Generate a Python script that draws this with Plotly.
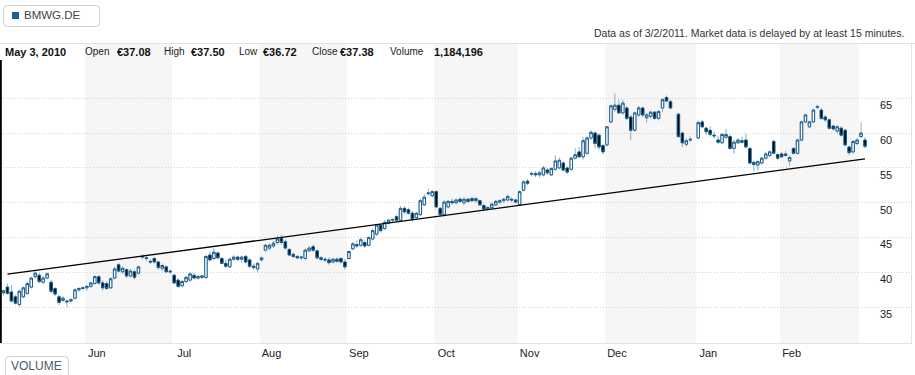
import pandas as pd
import plotly.graph_objects as go

# ---------------- data ----------------
ticker = "BMWG.DE"
first_day_label = "May 3, 2010"
first_day_volume = "1,184,196"
note_text = "Data as of 3/2/2011. Market data is delayed by at least 15 minutes."
closed_days = ["2010-12-24", "2010-12-31"]

open_ = [
    37.08, 37.9, 37.2, 36.5, 35.4, 36.5, 37.0, 37.9, 39.4, 39.6,
    38.6, 39.2, 38.6, 37.7, 36.5, 36.0, 35.9, 35.9, 36.3, 37.5,
    37.7, 37.8, 38.0, 38.4, 39.4, 38.5, 38.4, 37.8, 39.2, 41.1,
    40.1, 40.4, 39.5, 40.1, 39.9, 42.2, 42.1, 41.6, 42.0, 41.5,
    40.6, 40.8, 40.2, 39.6, 38.9, 38.1, 38.7, 38.9, 39.6, 39.2,
    39.3, 39.3, 42.5, 42.0, 42.8, 42.0, 41.3, 40.8, 41.9, 42.2,
    41.9, 42.3, 41.8, 40.9, 40.5, 41.8, 43.2, 43.5, 43.8, 44.3,
    44.9, 44.4, 43.3, 42.6, 42.3, 42.1, 42.0, 43.1, 43.7, 43.1,
    42.1, 41.9, 41.8, 41.5, 41.9, 42.0, 41.5, 42.0, 43.4, 44.0,
    43.9, 44.3, 43.9, 44.8, 45.5, 46.8, 46.3, 47.1, 47.5, 48.0,
    47.5, 49.2, 49.0, 48.5, 47.9, 48.3, 49.7, 51.3, 51.0, 51.6,
    49.2, 48.3, 49.4, 50.2, 50.0, 50.5, 50.0, 50.5, 50.6, 50.3,
    50.3, 49.6, 49.1, 49.3, 49.7, 50.1, 50.3, 50.4, 50.5, 50.4,
    49.7, 51.8, 53.1, 54.1, 54.2, 54.0, 54.0, 54.7, 54.0, 54.8,
    55.0, 55.7, 55.0, 54.8, 56.4, 57.3, 56.6, 57.1, 59.3, 60.0,
    59.7, 58.2, 58.3, 61.6, 63.4, 64.0, 62.9, 63.6, 62.3, 60.4,
    62.6, 63.6, 62.2, 62.4, 63.0, 62.1, 63.6, 65.1, 64.5,
    62.7, 60.0, 58.4, 59.0,
    59.3, 61.6, 60.7, 60.4, 59.7,
    59.0, 58.6, 59.4, 59.5, 57.8, 58.6, 58.9, 59.0, 57.8, 55.8,
    55.4, 55.7, 56.4, 56.8, 58.8, 56.9, 57.0, 57.0, 56.0, 57.8,
    57.1, 59.0, 61.6, 60.9, 61.6, 63.7, 63.3, 62.3, 61.9, 61.0,
    60.3, 60.7, 60.4, 58.0, 57.3, 58.5, 59.5, 59.0,
]
high = [
    37.50, 38.4, 38.2, 36.8, 37.6, 38.0, 38.7, 39.4, 40.2, 39.9,
    39.5, 40.0, 38.9, 37.9, 36.8, 36.6, 36.1, 36.3, 37.7, 37.9,
    38.0, 38.2, 38.7, 39.6, 39.6, 38.9, 38.7, 39.3, 40.8, 41.4,
    40.9, 40.6, 40.5, 40.3, 41.0, 42.6, 42.4, 41.9, 42.2, 41.7,
    41.3, 41.0, 40.4, 39.8, 39.1, 38.9, 39.5, 40.0, 39.9, 39.6,
    39.6, 42.5, 43.0, 43.5, 43.0, 42.2, 41.9, 42.1, 42.5, 42.4,
    42.4, 42.5, 42.0, 41.3, 41.5, 42.3, 44.1, 44.2, 44.5, 45.3,
    45.4, 44.7, 43.5, 42.9, 42.5, 42.4, 43.4, 43.8, 44.0, 43.3,
    42.4, 42.2, 42.2, 42.1, 42.2, 42.2, 41.9, 43.2, 44.4, 44.6,
    45.0, 44.6, 45.2, 46.3, 47.0, 47.0, 47.5, 47.7, 47.8, 48.3,
    49.5, 49.5, 49.3, 48.8, 48.7, 50.6, 51.2, 52.0, 51.8, 51.8,
    49.4, 50.4, 50.4, 50.6, 50.6, 50.8, 50.8, 50.7, 50.9, 50.8,
    50.5, 49.8, 49.5, 50.0, 50.4, 50.5, 50.7, 51.2, 50.8, 50.6,
    51.8, 53.3, 53.4, 54.5, 54.5, 54.6, 55.3, 55.0, 55.1, 56.8,
    56.5, 56.0, 55.2, 56.6, 57.8, 58.0, 59.4, 59.5, 60.4, 60.3,
    60.0, 58.5, 61.0, 64.1, 65.7, 64.8, 64.8, 63.9, 62.6, 63.1,
    63.9, 63.8, 62.9, 63.2, 63.2, 63.3, 65.0, 65.4, 64.8,
    62.9, 60.2, 59.2, 59.5,
    61.8, 61.9, 60.9, 61.0, 60.2,
    59.6, 60.0, 60.6, 59.8, 59.0, 59.3, 59.5, 59.9, 58.0, 56.0,
    56.1, 56.6, 57.3, 57.5, 59.1, 57.1, 57.3, 57.4, 56.8, 58.0,
    59.2, 61.8, 62.8, 61.8, 63.5, 64.1, 63.6, 62.6, 62.1, 61.2,
    61.1, 61.0, 60.6, 58.2, 59.0, 59.3, 61.6, 59.4,
]
low = [
    36.72, 36.8, 35.7, 35.4, 35.0, 36.3, 36.8, 37.7, 39.1, 38.4,
    38.3, 39.0, 37.0, 36.6, 35.3, 35.8, 35.0, 35.7, 36.1, 37.2,
    37.4, 37.4, 37.8, 38.3, 38.2, 37.4, 37.5, 37.6, 39.0, 40.0,
    39.8, 39.2, 39.3, 39.0, 39.7, 41.9, 41.6, 41.2, 41.3, 40.4,
    40.2, 39.9, 39.8, 38.3, 37.8, 37.9, 38.5, 38.7, 39.0, 39.0,
    39.1, 39.1, 41.6, 41.8, 41.9, 41.2, 40.6, 40.6, 41.7, 41.6,
    41.4, 41.3, 40.6, 40.4, 40.0, 41.6, 43.0, 43.2, 43.5, 44.0,
    44.0, 43.3, 42.3, 42.0, 41.9, 41.8, 41.8, 42.9, 43.0, 41.9,
    41.6, 41.5, 41.1, 41.3, 41.4, 41.3, 40.4, 41.8, 43.2, 43.5,
    43.7, 43.5, 43.7, 44.6, 45.2, 45.7, 46.1, 46.9, 47.2, 47.3,
    47.3, 48.4, 48.3, 47.3, 47.7, 48.1, 49.5, 51.0, 50.8, 49.2,
    48.0, 48.0, 49.2, 49.7, 49.8, 50.0, 49.7, 50.0, 50.1, 50.0,
    49.5, 48.8, 48.9, 49.1, 49.5, 49.8, 50.0, 50.2, 50.1, 49.9,
    49.5, 51.6, 52.5, 53.8, 53.7, 53.6, 53.8, 54.0, 53.8, 54.6,
    54.8, 54.5, 54.1, 54.6, 56.2, 56.4, 56.2, 56.9, 59.0, 57.8,
    57.6, 56.9, 58.1, 61.4, 63.0, 62.7, 62.6, 61.8, 59.0, 60.2,
    62.3, 62.3, 61.5, 62.1, 61.9, 61.8, 63.0, 64.4, 63.4,
    59.3, 58.0, 58.1, 58.7,
    59.1, 60.7, 59.7, 59.5, 59.2,
    58.4, 58.4, 59.2, 57.6, 57.0, 58.4, 58.5, 57.8, 55.5, 54.5,
    54.6, 55.5, 56.2, 56.5, 57.0, 56.1, 56.4, 56.6, 55.3, 56.9,
    56.9, 58.8, 61.4, 60.7, 61.4, 63.4, 61.9, 61.6, 60.5, 60.4,
    60.0, 59.5, 58.1, 56.8, 57.0, 58.2, 59.3, 57.8,
]
close = [
    37.38, 37.0, 35.9, 35.6, 37.3, 37.8, 38.4, 39.2, 39.9, 38.7,
    39.2, 39.8, 37.3, 36.9, 35.7, 36.3, 35.8, 36.1, 37.5, 37.7,
    37.8, 38.0, 38.5, 39.4, 38.5, 37.8, 37.7, 39.1, 40.5, 40.2,
    40.6, 39.5, 40.2, 39.3, 40.8, 42.3, 42.0, 41.5, 41.5, 40.7,
    41.0, 40.1, 40.1, 38.5, 38.0, 38.7, 39.3, 39.8, 39.2, 39.4,
    39.5, 42.3, 41.8, 42.9, 42.1, 41.3, 40.9, 41.9, 42.2, 41.9,
    42.2, 41.5, 40.9, 40.7, 41.3, 42.1, 43.9, 43.9, 44.2, 44.8,
    44.3, 43.5, 42.5, 42.3, 42.1, 42.2, 43.2, 43.5, 43.2, 42.1,
    41.9, 41.8, 41.4, 41.9, 41.6, 41.5, 40.8, 43.0, 44.1, 43.8,
    44.7, 43.8, 45.0, 46.0, 46.8, 46.0, 47.2, 47.5, 47.6, 47.5,
    49.2, 48.7, 48.5, 47.6, 48.5, 50.3, 50.8, 51.4, 51.6, 49.4,
    48.3, 50.1, 50.2, 50.0, 50.4, 50.2, 50.5, 50.2, 50.3, 50.6,
    49.7, 49.1, 49.3, 49.8, 50.2, 50.3, 50.5, 50.9, 50.4, 50.1,
    51.6, 53.0, 52.8, 54.2, 54.0, 54.3, 55.0, 54.3, 54.9, 56.0,
    56.1, 54.7, 54.4, 56.4, 56.9, 56.6, 58.9, 59.3, 60.1, 58.5,
    58.0, 57.3, 60.9, 63.9, 64.0, 62.9, 64.3, 62.1, 60.4, 62.9,
    63.6, 62.6, 62.6, 63.0, 62.1, 63.1, 64.8, 64.6, 63.6,
    59.5, 58.6, 58.9, 59.1,
    61.5, 60.9, 60.2, 59.8, 59.6,
    58.7, 59.8, 59.8, 57.8, 58.7, 59.0, 58.7, 58.0, 55.7, 55.5,
    55.9, 56.4, 57.0, 57.3, 57.1, 56.4, 56.6, 56.8, 56.5, 57.1,
    59.0, 61.6, 62.6, 61.6, 63.3, 63.8, 62.1, 61.9, 60.7, 60.6,
    60.9, 59.7, 58.3, 57.2, 58.8, 59.0, 60.0, 58.1,
]

trend_x = ["2010-05-04", "2011-03-02"]
trend_y = [39.75, 56.3]

month_ticks = ["2010-06-01", "2010-07-01", "2010-08-02", "2010-09-01", "2010-10-01",
               "2010-11-01", "2010-12-01", "2011-01-03", "2011-02-01"]
month_labels = ["Jun", "Jul", "Aug", "Sep", "Oct", "Nov", "Dec", "Jan", "Feb"]
shaded_months = ["2010-06", "2010-08", "2010-10", "2010-12", "2011-02"]
y_ticks = [35, 40, 45, 50, 55, 60, 65]

header_labels = ["Open", "High", "Low", "Close", "Volume"]

# ---------------- build ----------------
dates = [d for d in pd.bdate_range("2010-05-03", "2011-03-02")
         if d.strftime("%Y-%m-%d") not in closed_days]
assert len(dates) == len(open_) == len(high) == len(low) == len(close)

body_hi = [max(o, c) for o, c in zip(open_, close)]
body_lo = [min(o, c) for o, c in zip(open_, close)]

W, H = 915, 375
ML, MR, MT, MB = 0, 4, 44, 32
PW, PH = W - ML - MR, H - MT - MB
FONT = "Liberation Sans, Arial, sans-serif"


def px(x):
    return (x - ML) / PW


def py(y):
    return (H - MB - y) / PH


def rounded_rect(x0, y0, x1, y1, r):
    pts = [
        f"M {px(x0 + r)},{py(y0)}",
        f"L {px(x1 - r)},{py(y0)}",
        f"Q {px(x1)},{py(y0)} {px(x1)},{py(y0 + r)}",
        f"L {px(x1)},{py(y1 - r)}",
        f"Q {px(x1)},{py(y1)} {px(x1 - r)},{py(y1)}",
        f"L {px(x0 + r)},{py(y1)}",
        f"Q {px(x0)},{py(y1)} {px(x0)},{py(y1 - r)}",
        f"L {px(x0)},{py(y0 + r)}",
        f"Q {px(x0)},{py(y0)} {px(x0 + r)},{py(y0)}",
        "Z",
    ]
    return " ".join(pts)


fig = go.Figure()

wick_col = "#86aecb"
body_col = "#1b5d8a"

fig.add_trace(go.Candlestick(
    x=dates, open=open_, high=high, low=low, close=close,
    increasing=dict(line=dict(color=wick_col, width=1), fillcolor=wick_col),
    decreasing=dict(line=dict(color=wick_col, width=1), fillcolor=wick_col),
    hoverinfo="skip", showlegend=False,
))
fig.add_trace(go.Candlestick(
    x=dates, open=open_, high=body_hi, low=body_lo, close=close,
    increasing=dict(line=dict(color=body_col, width=1), fillcolor="#ffffff"),
    decreasing=dict(line=dict(color=body_col, width=1), fillcolor="#000000"),
    hoverinfo="skip", showlegend=False,
))
fig.add_trace(go.Scatter(
    x=trend_x, y=trend_y, mode="lines",
    line=dict(color="#000000", width=1.3),
    hoverinfo="skip", showlegend=False,
))

shapes = []
for m in shaded_months:
    start = pd.Timestamp(m + "-01") + pd.offsets.BMonthBegin(0) - pd.Timedelta(hours=12)
    end = pd.Timestamp(m + "-01") + pd.offsets.BMonthEnd(0) + pd.Timedelta(hours=12)
    shapes.append(dict(type="rect", xref="x", yref="paper",
                       x0=start, x1=end, y0=0, y1=1,
                       fillcolor="#f6f6f6", line=dict(width=0), layer="below"))

# top separator line
shapes.append(dict(type="line", xref="paper", yref="paper",
                   x0=-0.01, x1=1.01, y0=py(43.5), y1=py(43.5),
                   line=dict(color="#e2e2e2", width=1)))
# left black axis line
shapes.append(dict(type="line", xref="paper", yref="paper",
                   x0=px(0.8), x1=px(0.8), y0=py(60), y1=py(343),
                   line=dict(color="#000000", width=2)))
# ticker box
shapes.append(dict(type="path", xref="paper", yref="paper",
                   path=rounded_rect(3.5, 5.5, 99.5, 26.5, 4),
                   line=dict(color="#cfcfcf", width=1), fillcolor="#ffffff"))
shapes.append(dict(type="rect", xref="paper", yref="paper",
                   x0=px(12), x1=px(19), y0=py(19), y1=py(12),
                   line=dict(width=0), fillcolor="#1f5f8b"))
# volume button
shapes.append(dict(type="path", xref="paper", yref="paper",
                   path=rounded_rect(5.5, 356.5, 68.5, 382, 4),
                   line=dict(color="#cfcfcf", width=1), fillcolor="#ffffff"))

annotations = [
    dict(text=ticker, x=px(22), y=py(15.5), xanchor="left", yanchor="middle",
         font=dict(size=11.5, color="#444444", family=FONT)),
    dict(text="VOLUME", x=px(36.5), y=py(366), xanchor="center", yanchor="middle",
         font=dict(size=12, color="#4d5b6b", family=FONT)),
    dict(text=note_text, x=px(906), y=py(33), xanchor="right", yanchor="middle",
         font=dict(size=10.5, color="#333333", family=FONT)),
    dict(text=f"<b>{first_day_label}</b>", x=px(3), y=py(52), xanchor="left", yanchor="middle",
         font=dict(size=11, color="#111111", family=FONT)),
]
header_values = [f"€{open_[0]:.2f}", f"€{high[0]:.2f}", f"€{low[0]:.2f}",
                 f"€{close[0]:.2f}", first_day_volume]
label_x = [83, 162, 237, 310, 388]
value_x = [115, 189, 261, 338, 432]
for lab, val, lx, vx in zip(header_labels, header_values, label_x, value_x):
    annotations.append(dict(text=lab, x=px(lx), y=py(51.5), xanchor="left", yanchor="middle",
                            font=dict(size=10, color="#222222", family=FONT)))
    annotations.append(dict(text=f"<b>{val}</b>", x=px(vx), y=py(52), xanchor="left",
                            yanchor="middle", font=dict(size=11, color="#111111", family=FONT)))
for a in annotations:
    a.update(xref="paper", yref="paper", showarrow=False)

fig.update_layout(
    width=W, height=H,
    margin=dict(l=ML, r=MR, t=MT, b=MB),
    paper_bgcolor="#ffffff", plot_bgcolor="#ffffff",
    font=dict(family=FONT, size=11, color="#333333"),
    showlegend=False, hovermode=False,
    boxgap=0.12,
    shapes=shapes, annotations=annotations,
    xaxis=dict(
        type="date",
        range=["2010-04-30 03:00", "2011-03-17 14:00"],
        rangebreaks=[dict(bounds=["sat", "mon"])],
        rangeslider=dict(visible=False),
        tickvals=month_ticks, ticktext=month_labels,
        ticks="", showgrid=False, zeroline=False,
        showline=True, linecolor="#e3e3e3", linewidth=1,
        ticklabelshift=10, ticklabelstandoff=0,
        tickfont=dict(size=11, color="#222222"),
    ),
    yaxis=dict(
        side="right",
        range=[29.88, 72.78],
        tickvals=y_ticks,
        ticks="", ticklabelposition="inside",
        ticklabelstandoff=18, ticklabelshift=7,
        showgrid=True, gridcolor="#d2d2d2", griddash="1px,2px", gridwidth=1,
        zeroline=False, showline=True, linecolor="#e6e6e6",
        tickfont=dict(size=11, color="#222222"),
    ),
)

fig.write_html("out.html", config={"displayModeBar": False},
               post_script="document.body.style.margin='0px';")
